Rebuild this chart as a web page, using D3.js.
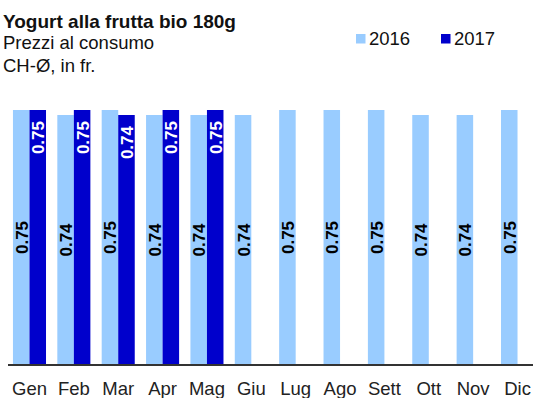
<!DOCTYPE html>
<html>
<head>
<meta charset="utf-8">
<script src="https://cdn.jsdelivr.net/npm/d3@7"></script>
<style>
  html, body { margin: 0; padding: 0; background: #fff; }
  svg { display: block; font-family: Arial, "Liberation Sans", sans-serif; }
</style>
</head>
<body>
<svg id="chart" width="533" height="398"></svg>
<script>
// Monthly consumer prices, CHF
const months = ["Gen", "Feb", "Mar", "Apr", "Mag", "Giu", "Lug", "Ago", "Sett", "Ott", "Nov", "Dic"];
const years = ["2016", "2017"];
const prices2016 = [0.75, 0.74, 0.75, 0.74, 0.74, 0.74, 0.75, 0.75, 0.75, 0.74, 0.74, 0.75];
const prices2017 = [0.75, 0.75, 0.74, 0.75, 0.75];
const colors = ["#99CCFF", "#0000CC"];

const svg = d3.select("#chart");
const baseY = 365;
const labelSize = 17;
const textSize = 18.5;

const x = d3.scaleBand().domain(months).range([7.3, 539.7]).paddingInner(0.255).paddingOuter(0.1275);
const xs = d3.scaleBand().domain(years).range([0, x.bandwidth()]);
const y = d3.scaleLinear().domain([0.24, 0.77]).range([baseY, 100]);

const fmt = d3.format(".2f");
const series = [prices2016, prices2017];

series.forEach((vals, si) => {
  const g = svg.append("g");
  const data = vals.map((v, i) => ({ m: months[i], v }));
  g.selectAll("rect").data(data).join("rect")
    .attr("x", d => x(d.m) + xs(years[si]))
    .attr("y", d => y(d.v))
    .attr("width", xs.bandwidth())
    .attr("height", d => baseY - y(d.v))
    .attr("fill", colors[si]);

  // Rotated value labels: centred for 2016, hanging from the top for 2017
  g.selectAll("text").data(data).join("text")
    .attr("transform", d => {
      const cx = x(d.m) + xs(years[si]) + xs.bandwidth() / 2;
      const cy = si === 0 ? (y(d.v) + baseY) / 2 : y(d.v) + 11;
      return `translate(${cx + 6.5},${cy}) rotate(-90)`;
    })
    .attr("text-anchor", si === 0 ? "middle" : "end")
    .attr("font-size", labelSize)
    .attr("font-weight", "bold")
    .attr("fill", si === 0 ? "#000" : "#fff")
    .text(d => fmt(d.v));
});

// Baseline axis
const axis = svg.append("g").attr("transform", `translate(0,${baseY})`)
  .call(d3.axisBottom(x).tickSize(0));
axis.select(".domain").attr("stroke", "#333").attr("stroke-width", 2)
  .attr("d", "M8,0H533");
axis.selectAll(".tick text")
  .attr("y", 30).attr("dy", null)
  .attr("font-size", textSize).attr("fill", "#222")
  .attr("font-family", "Arial, 'Liberation Sans', sans-serif");

// Titles
svg.append("text").attr("x", 3).attr("y", 27.5).attr("font-size", 19).attr("font-weight", "bold")
  .attr("fill", "#111").text("Yogurt alla frutta bio 180g");
svg.append("text").attr("x", 3).attr("y", 49).attr("font-size", textSize).attr("fill", "#111").text("Prezzi al consumo");
svg.append("text").attr("x", 3).attr("y", 72).attr("font-size", textSize).attr("fill", "#111").text("CH-Ø, in fr.");

// Legend
const legX = [356, 441];
years.forEach((yr, i) => {
  svg.append("rect").attr("x", legX[i]).attr("y", 34).attr("width", 9.5).attr("height", 9.5).attr("fill", colors[i]);
  svg.append("text").attr("x", legX[i] + 13).attr("y", 44.5).attr("font-size", textSize).attr("fill", "#111").text(yr);
});
</script>
</body>
</html>
